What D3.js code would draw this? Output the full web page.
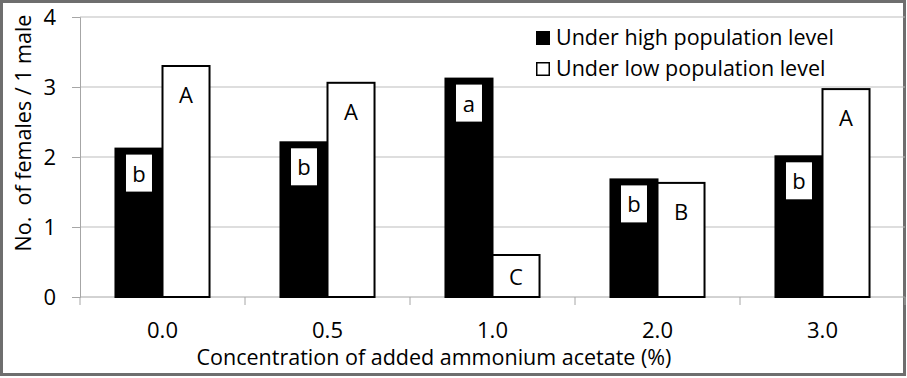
<!DOCTYPE html>
<html>
<head>
<meta charset="utf-8">
<script src="https://cdn.jsdelivr.net/npm/d3@7"></script>
<style>
  body { margin: 0; background: #fff; }
  svg { display: block; font-family: "Open Sans", sans-serif; }
</style>
</head>
<body>
<svg id="chart" width="907" height="378"></svg>
<script>
let categories = ["0.0", "0.5", "1.0", "2.0", "3.0"];
let series = ["Under high population level", "Under low population level"];
let highValues = [2.12, 2.21, 3.12, 1.68, 2.01];
let lowValues = [3.30, 3.06, 0.60, 1.63, 2.97];
let highLetters = ["b", "b", "a", "b", "b"];
let lowLetters = ["A", "A", "C", "B", "A"];
let yTicks = [0, 1, 2, 3, 4];

let width = 907;
let height = 378;
let plotLeft = 80, plotRight = 905, plotTop = 17, plotBottom = 297;
let fontSize = 21.5;
let smallFont = 22;

let svg = d3.select("#chart");

// frame
svg.append("rect")
    .attr("x", 1.5).attr("y", 1.5)
    .attr("width", width - 4).attr("height", height - 5)
    .attr("fill", "white")
    .style("stroke", "#6e6e6e")
    .style("stroke-width", 3);

let x = d3.scaleBand().domain(categories).range([plotLeft, plotRight]).paddingInner(0.43).paddingOuter(0.215);
let xSub = d3.scaleBand().domain(series).range([0, x.bandwidth()]);
let y = d3.scaleLinear().domain([0, 4]).range([plotBottom, plotTop]);

// gridlines
svg.selectAll(".grid")
    .data(yTicks.filter(d => d > 0))
    .enter().append("line")
    .attr("class", "grid")
    .attr("x1", plotLeft).attr("x2", plotRight)
    .attr("y1", d => y(d)).attr("y2", d => y(d))
    .style("stroke", "#bdbdbd")
    .style("stroke-width", 1);

// y axis
let yAxis = svg.append("g")
    .attr("transform", "translate(" + plotLeft + ",0)")
    .call(d3.axisLeft(y).tickValues(yTicks).tickSize(8).tickPadding(16).tickFormat(d3.format("d")));
yAxis.select(".domain").style("stroke", "#a6a6a6");
yAxis.selectAll(".tick line").style("stroke", "#a6a6a6");
yAxis.selectAll("text")
    .style("font-family", "'Open Sans', sans-serif")
    .style("font-size", smallFont + "px")
    .attr("fill", "black");

// x axis line and boundary ticks
let gap = x.step() - x.bandwidth();
let bounds = categories.map(c => x(c) - gap / 2).concat([plotRight]);
svg.append("line")
    .attr("x1", plotLeft).attr("x2", plotRight)
    .attr("y1", plotBottom).attr("y2", plotBottom)
    .style("stroke", "#a6a6a6");
svg.selectAll(".xtick")
    .data(bounds)
    .enter().append("line")
    .attr("x1", d => d).attr("x2", d => d)
    .attr("y1", plotBottom).attr("y2", plotBottom + 8)
    .style("stroke", "#a6a6a6");

svg.selectAll(".xlabel")
    .data(categories)
    .enter().append("text")
    .attr("x", d => x(d) + x.bandwidth() / 2)
    .attr("y", 338)
    .attr("text-anchor", "middle")
    .style("font-size", smallFont + "px")
    .text(d => d);

// bars
let groups = svg.selectAll(".group")
    .data(categories)
    .enter().append("g")
    .attr("transform", d => "translate(" + x(d) + ",0)");

groups.append("rect")
    .attr("x", xSub(series[0]))
    .attr("y", (d, i) => y(highValues[i]))
    .attr("width", xSub.bandwidth())
    .attr("height", (d, i) => y(0) - y(highValues[i]))
    .attr("fill", "black")
    .style("stroke", "black")
    .style("stroke-width", 2);

groups.append("rect")
    .attr("x", xSub(series[1]))
    .attr("y", (d, i) => y(lowValues[i]))
    .attr("width", xSub.bandwidth())
    .attr("height", (d, i) => y(0) - y(lowValues[i]))
    .attr("fill", "white")
    .style("stroke", "black")
    .style("stroke-width", 2);

// letter boxes on the black bars
groups.append("rect")
    .attr("x", xSub(series[0]) + xSub.bandwidth() / 2 - 13)
    .attr("y", (d, i) => y(highValues[i]) + 6)
    .attr("width", 26)
    .attr("height", 37)
    .attr("fill", "white");

groups.append("text")
    .attr("x", xSub(series[0]) + xSub.bandwidth() / 2)
    .attr("y", (d, i) => y(highValues[i]) + 24)
    .attr("text-anchor", "middle")
    .attr("dominant-baseline", "central")
    .style("font-size", smallFont + "px")
    .text((d, i) => highLetters[i]);

groups.append("text")
    .attr("x", xSub(series[1]) + xSub.bandwidth() / 2)
    .attr("y", (d, i) => Math.min(y(lowValues[i]) + 28, (y(lowValues[i]) + y(0)) / 2))
    .attr("text-anchor", "middle")
    .attr("dominant-baseline", "central")
    .style("font-size", smallFont + "px")
    .text((d, i) => lowLetters[i]);

// legend
let legend = svg.selectAll(".legend")
    .data(series)
    .enter().append("g")
    .attr("transform", (d, i) => "translate(536," + (31 + i * 31) + ")");

legend.append("rect")
    .attr("x", (d, i) => i == 0 ? 0 : 0.75)
    .attr("y", (d, i) => i == 0 ? 0 : 0.75)
    .attr("width", (d, i) => i == 0 ? 14 : 12.5)
    .attr("height", (d, i) => i == 0 ? 14 : 12.5)
    .attr("fill", (d, i) => i == 0 ? "black" : "white")
    .style("stroke", "black")
    .style("stroke-width", (d, i) => i == 0 ? 0 : 1.5);

legend.append("text")
    .attr("x", 20)
    .attr("y", 14)
    .style("font-size", fontSize + "px")
    .text(d => d);

// axis titles
svg.append("text")
    .attr("x", 434)
    .attr("y", 365)
    .attr("text-anchor", "middle")
    .style("font-size", fontSize + "px")
    .text("Concentration of added ammonium acetate (%)");

svg.append("text")
    .attr("transform", "translate(31,133) rotate(-90)")
    .attr("text-anchor", "middle")
    .style("font-size", fontSize + "px")
    .style("white-space", "pre")
    .text("No.  of females / 1 male");
</script>
</body>
</html>
